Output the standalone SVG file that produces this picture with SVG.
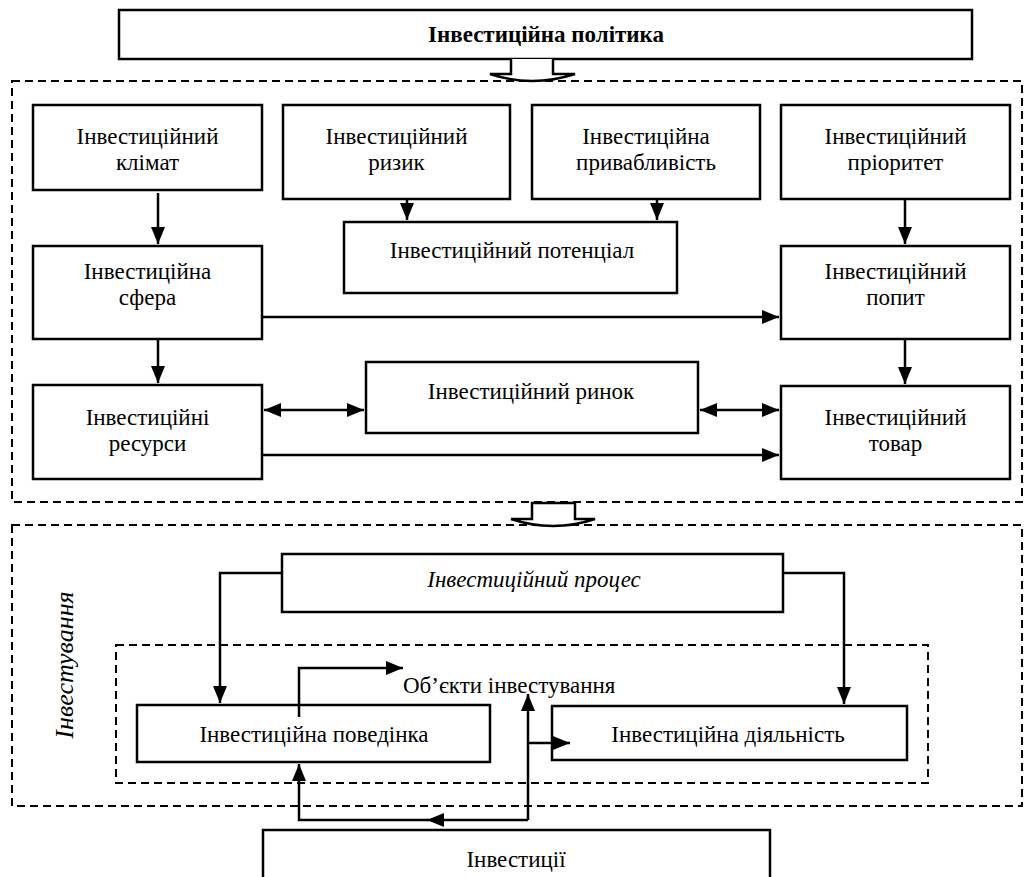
<svg xmlns="http://www.w3.org/2000/svg" width="1024" height="877" viewBox="0 0 1024 877">
<defs>
<marker id="ah" markerUnits="userSpaceOnUse" markerWidth="18" markerHeight="15" refX="17" refY="7" orient="auto-start-reverse">
<path d="M0,0 L17,7 L0,14 z" fill="#000"/>
</marker>
<style>
.box{fill:#fff;stroke:#000;stroke-width:2.5}
.dash{fill:none;stroke:#000;stroke-width:2;stroke-dasharray:8,5}
.t{font-family:'Liberation Serif',serif;font-size:23px;fill:#000;text-anchor:middle}
.c{fill:none;stroke:#000;stroke-width:2.5}
.blk{fill:#fff;stroke:#000;stroke-width:2.5;stroke-linejoin:miter}
</style>
</defs>
<rect width="1024" height="877" fill="#fff"/>
<g id="frames">
<rect class="dash" x="12" y="81" width="1010" height="421"/>
<rect class="dash" x="12" y="525" width="1010" height="281"/>
<rect class="dash" x="116" y="645" width="812" height="138"/>
</g>
<g font-family="Liberation Serif, serif">
<g id="n-policy"><rect class="box" x="119" y="10" width="853" height="49"/><text class="t" x="546" y="42" font-weight="bold">Інвестиційна політика</text></g>
<g id="n-climate"><rect class="box" x="33" y="105" width="229" height="85"/><text class="t" x="147.5" y="144">Інвестиційний</text><text class="t" x="147.5" y="170">клімат</text></g>
<g id="n-risk"><rect class="box" x="283" y="105" width="227" height="94"/><text class="t" x="396.5" y="144">Інвестиційний</text><text class="t" x="396.5" y="170">ризик</text></g>
<g id="n-attract"><rect class="box" x="532" y="105" width="228" height="94"/><text class="t" x="646" y="144">Інвестиційна</text><text class="t" x="646" y="170">привабливість</text></g>
<g id="n-priority"><rect class="box" x="781" y="105" width="229" height="94"/><text class="t" x="895.5" y="144">Інвестиційний</text><text class="t" x="895.5" y="170">пріоритет</text></g>
<g id="n-potential"><rect class="box" x="344" y="222" width="333" height="71"/><text class="t" x="512" y="258">Інвестиційний потенціал</text></g>
<g id="n-sphere"><rect class="box" x="33" y="246" width="229" height="93"/><text class="t" x="147.5" y="279">Інвестиційна</text><text class="t" x="147.5" y="305">сфера</text></g>
<g id="n-demand"><rect class="box" x="781" y="246" width="229" height="93"/><text class="t" x="895.5" y="279">Інвестиційний</text><text class="t" x="895.5" y="305">попит</text></g>
<g id="n-resources"><rect class="box" x="33" y="385" width="229" height="94"/><text class="t" x="147.5" y="425">Інвестиційні</text><text class="t" x="147.5" y="451">ресурси</text></g>
<g id="n-market"><rect class="box" x="366" y="362" width="332" height="71"/><text class="t" x="531" y="399">Інвестиційний ринок</text></g>
<g id="n-goods"><rect class="box" x="781" y="386" width="229" height="93"/><text class="t" x="895.5" y="425">Інвестиційний</text><text class="t" x="895.5" y="451">товар</text></g>
<g id="n-process"><rect class="box" x="282" y="554" width="501" height="58"/><text class="t" x="534" y="587" font-style="italic">Інвестиційний процес</text></g>
<g id="n-behavior"><rect class="box" x="137" y="705" width="353" height="57"/><text class="t" x="314" y="742">Інвестиційна поведінка</text></g>
<g id="n-activity"><rect class="box" x="552" y="706" width="355" height="54"/><text class="t" x="728" y="742">Інвестиційна діяльність</text></g>
<g id="n-objects"><text class="t" x="403" y="693" style="text-anchor:start">Об’єкти інвестування</text></g>
<g id="n-investments"><rect class="box" x="263" y="830" width="507" height="50"/><text class="t" x="516" y="867">Інвестиції</text></g>
<g id="n-label"><text class="t" x="0" y="0" font-style="italic" style="font-size:26px" transform="translate(73,665) rotate(-90)">Інвестування</text></g>
</g>
<g id="connectors">
<path class="blk" d="M511,59 V74 H490 Q532,88 575,74 H553 V59"/>
<path class="blk" d="M532,503 H575 V519 H595 Q553,533 511,519 H532 Z"/>
<path class="c" d="M158,193 V244" marker-end="url(#ah)"/>
<path class="c" d="M407,199 V220" marker-end="url(#ah)"/>
<path class="c" d="M657,199 V220" marker-end="url(#ah)"/>
<path class="c" d="M905,199 V244" marker-end="url(#ah)"/>
<path class="c" d="M262,317 H779" marker-end="url(#ah)"/>
<path class="c" d="M158,339 V383" marker-end="url(#ah)"/>
<path class="c" d="M905,339 V384" marker-end="url(#ah)"/>
<path class="c" d="M264,410 H364" marker-start="url(#ah)" marker-end="url(#ah)"/>
<path class="c" d="M700,410 H779" marker-start="url(#ah)" marker-end="url(#ah)"/>
<path class="c" d="M262,455 H779" marker-end="url(#ah)"/>
<path class="c" d="M282,573 H220 V703" marker-end="url(#ah)"/>
<path class="c" d="M783,573 H844 V704" marker-end="url(#ah)"/>
<path class="c" d="M299,717 V668 H403" marker-end="url(#ah)"/>
<path class="c" d="M528,820 V694" marker-end="url(#ah)"/>
<path class="c" d="M528,743 H570" marker-end="url(#ah)"/>
<path class="c" d="M528,820 H427" marker-end="url(#ah)"/>
<path class="c" d="M428,820 H299 V764" marker-end="url(#ah)"/>
</g>
</svg>
